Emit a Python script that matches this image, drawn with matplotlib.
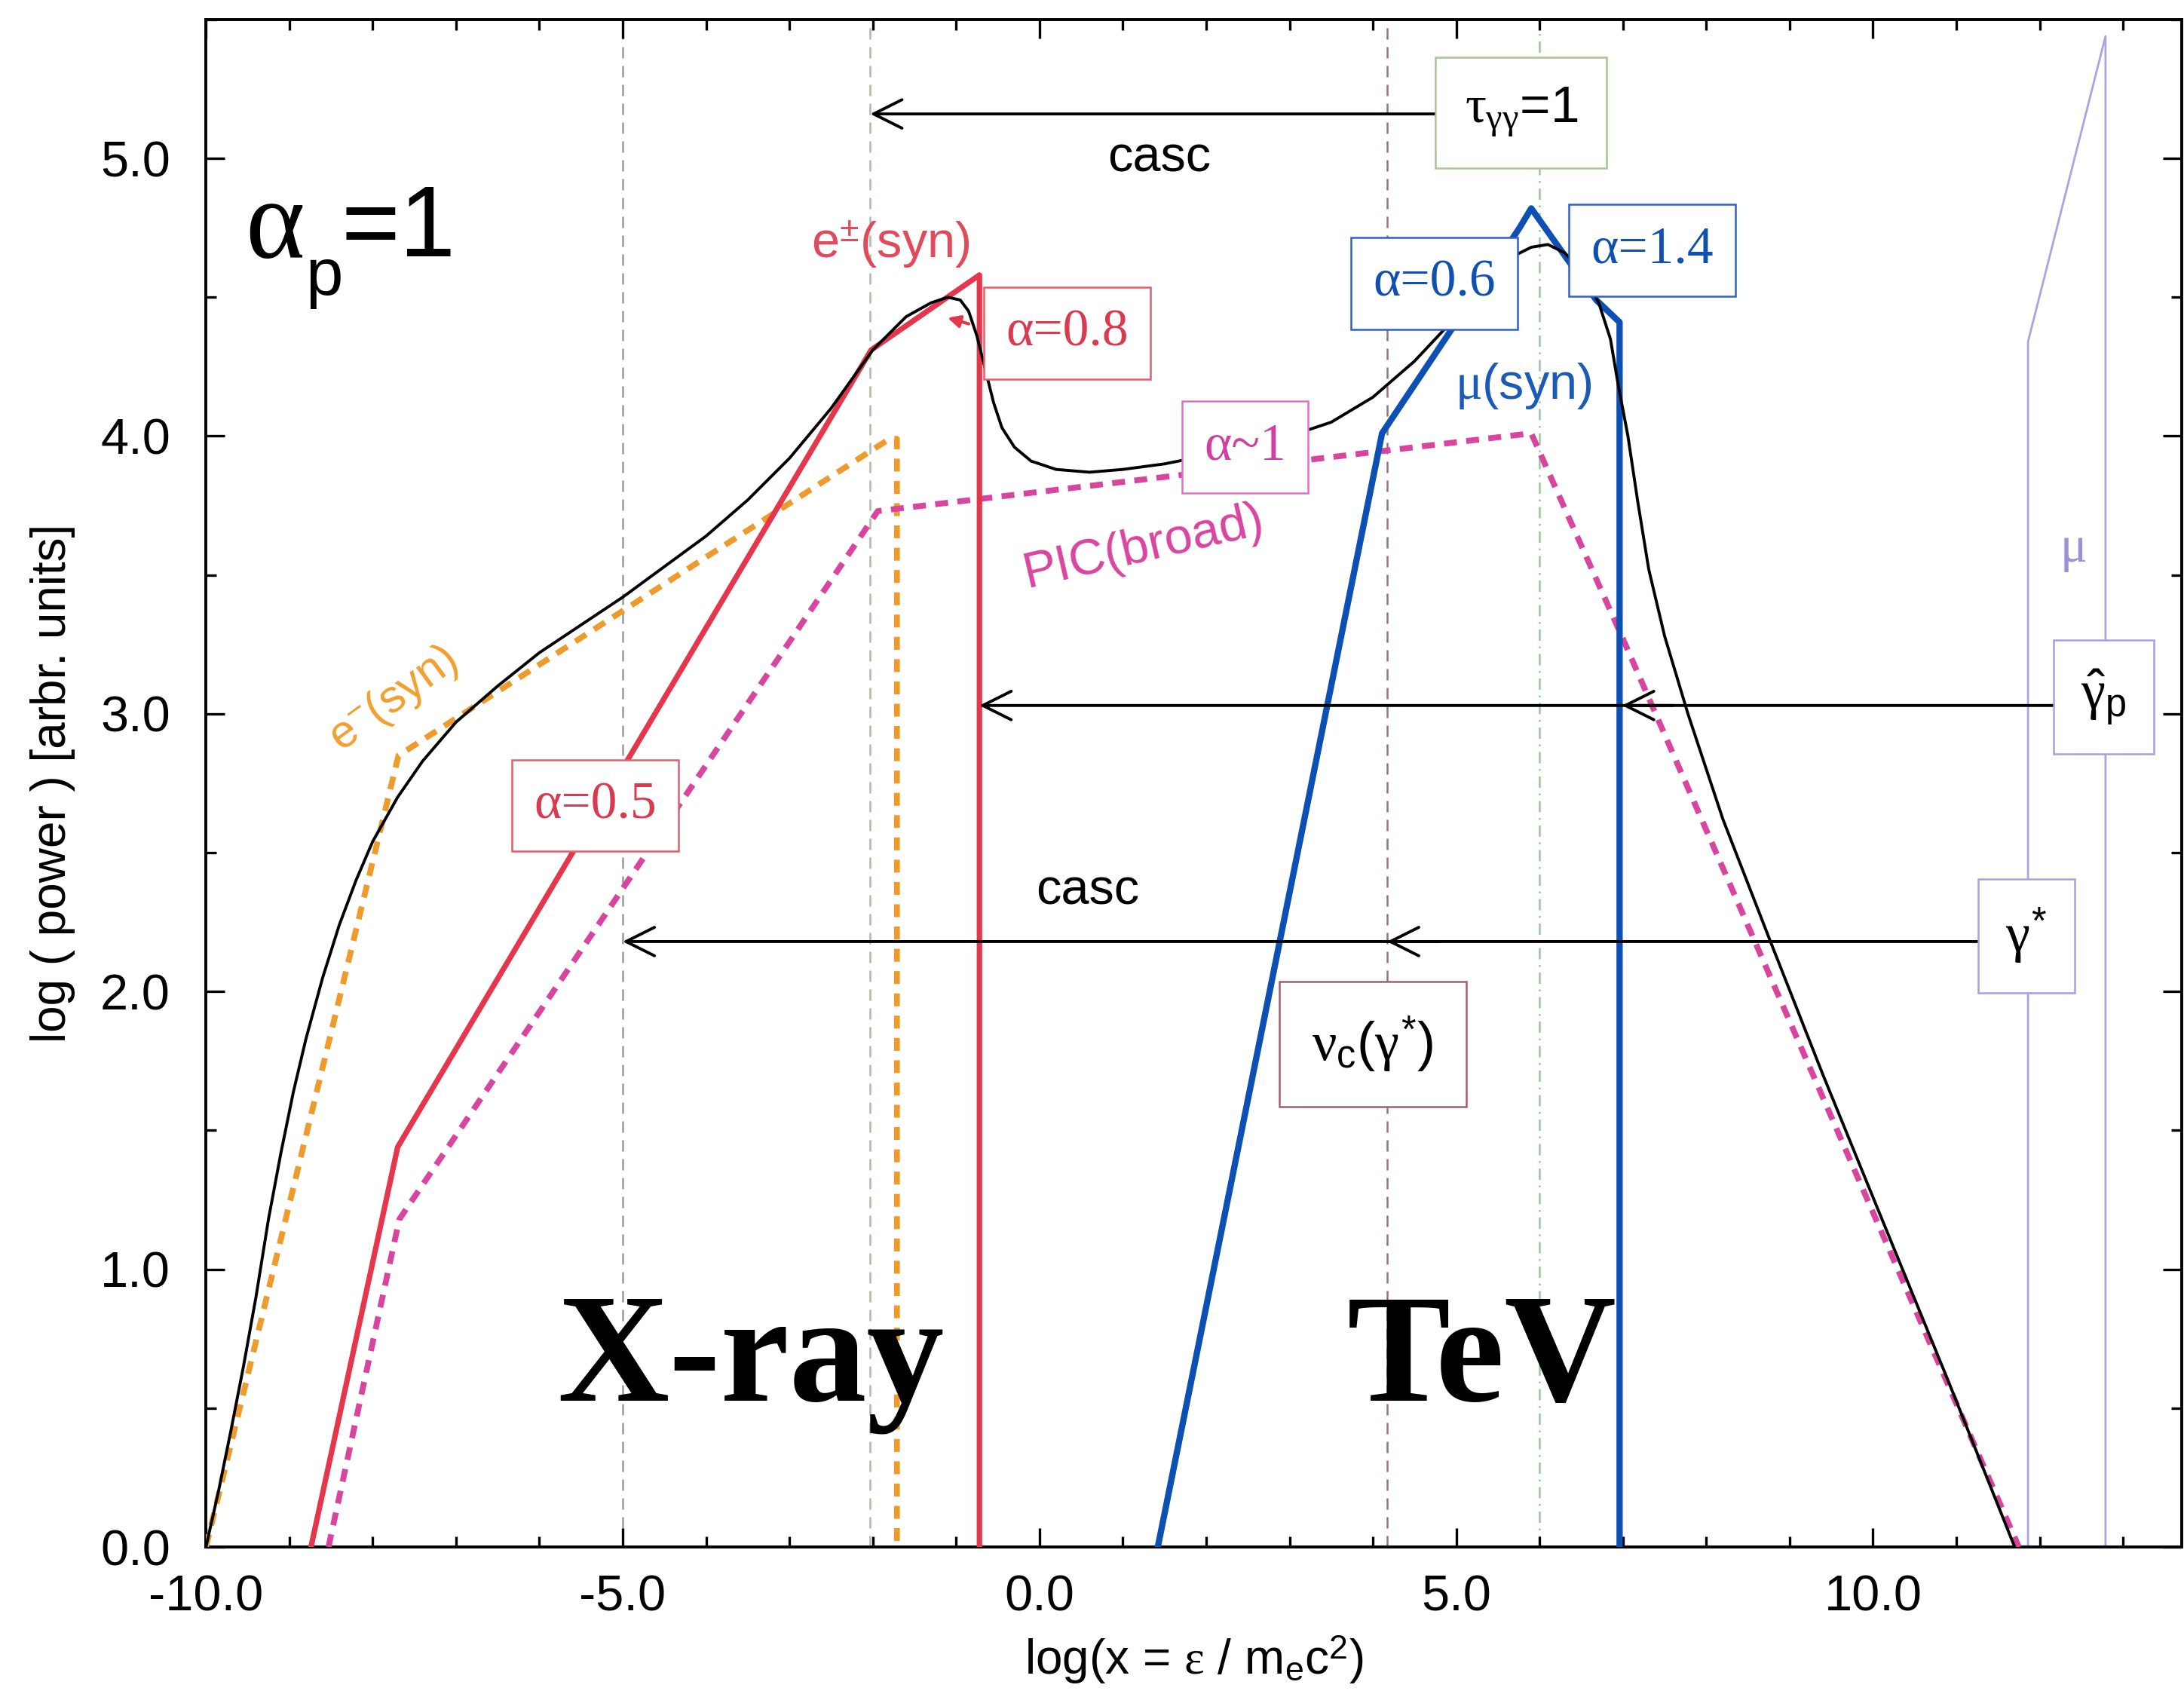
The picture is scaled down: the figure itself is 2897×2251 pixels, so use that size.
"""
Broad-band spectrum sketch: X-ray and TeV components, alpha_p = 1
"""

import matplotlib
matplotlib.use('Agg')
import matplotlib.pyplot as plt
from matplotlib.ticker import MultipleLocator, FormatStrFormatter

plt.rcParams['font.family'] = 'Liberation Sans'
plt.rcParams['mathtext.fontset'] = 'custom'
plt.rcParams['mathtext.rm'] = 'Liberation Sans'
plt.rcParams['mathtext.it'] = 'Liberation Serif'
plt.rcParams['mathtext.bf'] = 'Liberation Sans:bold'

# total spectrum (black)
total_x = [-10.0, -9.85, -9.7, -9.55, -9.4, -9.25, -9.1, -8.95, -8.8, -8.6, -8.4, -8.2,
           -8.0, -7.7, -7.4, -7.0, -6.5, -6.0, -5.5, -5.0, -4.5, -4.0, -3.5, -3.0,
           -2.5, -2.0, -1.6, -1.3, -1.1, -0.95, -0.85, -0.75, -0.65, -0.55, -0.45, -0.3,
           -0.1, 0.2, 0.6, 1.0, 1.5, 2.0, 2.5, 3.0, 3.5, 4.0, 4.5, 5.0,
           5.4, 5.7, 5.9, 6.1, 6.3, 6.5, 6.71, 6.85, 6.94, 7.06, 7.18, 7.31,
           7.5, 7.78, 8.2, 8.77, 9.4, 10.04, 10.9, 11.7]
total_y = [0.0, 0.2, 0.42, 0.65, 0.9, 1.18, 1.42, 1.64, 1.83, 2.05, 2.24, 2.4,
           2.54, 2.7, 2.83, 2.97, 3.1, 3.22, 3.32, 3.42, 3.53, 3.64, 3.77, 3.92,
           4.1, 4.31, 4.43, 4.48, 4.5, 4.49, 4.45, 4.36, 4.24, 4.12, 4.03, 3.96,
           3.91, 3.88, 3.87, 3.88, 3.9, 3.93, 3.96, 4.0, 4.05, 4.14, 4.27, 4.43,
           4.56, 4.65, 4.68, 4.69, 4.66, 4.6, 4.48, 4.35, 4.19, 4.0, 3.76, 3.52,
           3.28, 3.0, 2.62, 2.18, 1.7, 1.23, 0.6, 0.0]

# e+- synchrotron (red)
epm_x = [-8.74, -7.7, -2.02, -0.72, -0.72]
epm_y = [0.0, 1.44, 4.31, 4.58, 0.0]

# e- synchrotron (orange dashed)
em_x = [-10.0, -7.69, -1.8, -1.71, -1.71]
em_y = [0.0, 2.85, 3.99, 3.99, 0.0]

# PIC broad (magenta dashed)
pic_x = [-8.53, -7.68, -1.94, 5.9, 7.0, 11.75]
pic_y = [0.0, 1.18, 3.73, 4.01, 3.27, 0.0]

# muon synchrotron (blue)
musyn_x = [1.42, 4.11, 5.76, 5.9, 6.68, 6.96, 6.96]
musyn_y = [0.0, 4.01, 4.75, 4.82, 4.49, 4.41, 0.0]

# muon (light purple)
mu_x = [11.86, 11.86, 12.79, 12.79]
mu_y = [0.0, 4.34, 5.44, 0.0]

# vertical reference lines: x, colour, dash pattern
vlines_x = [-5.0, -2.03, 4.17, 6.0]
vlines_c = ['#9a9a9a', '#a8bca0', '#9c7080', '#9cc49c']
vlines_d = [(6, 4), (6, 4), (6, 4), (6, 3, 1, 3)]

fig = plt.figure(figsize=(2897 / 200, 2251 / 200), dpi=200)
ax = fig.add_axes([0.0943, 0.0884, 0.9045, 0.9001])

for x, c, d in zip(vlines_x, vlines_c, vlines_d):
    ax.axvline(x, color=c, lw=0.9, dashes=d, zorder=1)

ax.plot(mu_x, mu_y, color='#aaa2e2', lw=1.0, zorder=2)
ax.plot(em_x, em_y, color='#ef9a2c', lw=2.8, dashes=(2.2, 1.6), zorder=3)
ax.plot(pic_x, pic_y, color='#d8459f', lw=2.8, dashes=(2.2, 1.6), zorder=3)
ax.plot(epm_x, epm_y, color='#e5364c', lw=2.6, zorder=3)
ax.plot(musyn_x, musyn_y, color='#0c50b4', lw=3.0, zorder=3)
ax.plot(total_x, total_y, color='black', lw=1.4, zorder=4)

# small red pointer at the e+- peak
ax.annotate('', xy=(-1.15, 4.43), xytext=(-0.8, 4.40),
            arrowprops=dict(arrowstyle='-|>', color='#e5364c', lw=1.5, mutation_scale=12))

# cascade arrows
arr = dict(arrowstyle='->', color='black', lw=1.4, mutation_scale=34, shrinkA=0, shrinkB=0)
ax.annotate('', xy=(-2.03, 5.16), xytext=(5.2, 5.16), arrowprops=arr, zorder=4)
ax.annotate('', xy=(-0.72, 3.03), xytext=(12.5, 3.03), arrowprops=arr, zorder=4)
ax.annotate('', xy=(6.99, 3.03), xytext=(7.6, 3.03), arrowprops=arr, zorder=4)
ax.annotate('', xy=(-5.0, 2.18), xytext=(11.5, 2.18), arrowprops=arr, zorder=4)
ax.annotate('', xy=(4.17, 2.18), xytext=(4.8, 2.18), arrowprops=arr, zorder=4)


def box(x, y, s, tc, ec, family='Liberation Serif', size=25, pad=0.42):
    ax.text(x, y, s, color=tc, fontsize=size, family=family, ha='center', va='center',
            zorder=6, bbox=dict(boxstyle='square,pad=%.2f' % pad, fc='white', ec=ec, lw=0.9))


box(-5.33, 2.67, 'α=0.5', '#d83a50', '#e0606f')
box(0.33, 4.37, 'α=0.8', '#d83a50', '#e0606f')
box(2.47, 3.96, 'α~1', '#d040a0', '#e070c8')
box(4.74, 4.55, 'α=0.6', '#1050b0', '#3060c0')
box(7.35, 4.67, 'α=1.4', '#1050b0', '#3060c0')
box(5.78, 5.165, r'$\tau_{\gamma\gamma}$=1', 'black', '#a8c498', 'Liberation Sans', 25, 0.55)
box(4.0, 1.81, r'$\nu_{\mathrm{c}}(\gamma^{*})$', 'black', '#a06070', 'Liberation Sans', 26, 0.6)
box(12.77, 3.06, r'$\hat{\gamma}_{\mathrm{p}}$', 'black', '#a8a0e0', 'Liberation Sans', 26, 0.5)
box(11.84, 2.20, r'$\gamma^{*}$', 'black', '#a8a0e0', 'Liberation Sans', 26, 0.5)

ax.text(1.44, 5.0, 'casc', fontsize=24, ha='center', va='center')
ax.text(0.58, 2.36, 'casc', fontsize=24, ha='center', va='center')
ax.text(-1.79, 4.69, r'e$^{\pm}$(syn)', color='#e04a5a', fontsize=24, ha='center', va='center')
ax.text(5.81, 4.18, r'$\mu$(syn)', color='#1a5ab8', fontsize=24, ha='center', va='center')
ax.text(1.25, 3.60, 'PIC(broad)', color='#d8459f', fontsize=24, ha='center', va='center',
        rotation=13)
ax.text(-7.75, 3.05, r'e$^{-}$(syn)', color='#f0a030', fontsize=22, ha='center', va='center',
        rotation=36)
ax.text(12.4, 3.59, r'$\mu$', color='#9a90d8', fontsize=24, ha='center', va='center')

# alpha_p = 1 (serif alpha, sans subscript and value)
ax.text(-9.17, 4.74, 'α', fontsize=54, family='Liberation Serif', ha='center', va='center')
ax.text(-8.58, 4.57, 'p', fontsize=32, ha='center', va='center')
ax.text(-8.38, 4.74, '=1', fontsize=48, ha='left', va='center')

ax.text(-3.46, 0.66, 'X-ray', fontsize=74, family='Liberation Serif', weight='bold',
        ha='center', va='center')
ax.text(5.31, 0.66, 'TeV', fontsize=74, family='Liberation Serif', weight='bold',
        ha='center', va='center')

ax.set_xlim(-10, 13.7)
ax.set_ylim(0, 5.5)
ax.xaxis.set_major_locator(MultipleLocator(5))
ax.xaxis.set_minor_locator(MultipleLocator(1))
ax.yaxis.set_major_locator(MultipleLocator(1))
ax.yaxis.set_minor_locator(MultipleLocator(0.5))
ax.xaxis.set_major_formatter(FormatStrFormatter('%.1f'))
ax.yaxis.set_major_formatter(FormatStrFormatter('%.1f'))
ax.tick_params(which='both', direction='in', top=True, right=True, labelsize=24, width=1.2)
ax.tick_params(which='major', length=9)
ax.tick_params(which='minor', length=5)
ax.tick_params(axis='x', which='both', pad=13)
ax.tick_params(axis='y', which='both', pad=17)
for s in ax.spines.values():
    s.set_linewidth(1.4)

ax.set_xlabel(r'log(x = $\epsilon$ / m$_{\mathrm{e}}$c$^{2}$)', fontsize=23, labelpad=6)
ax.set_ylabel('log ( power ) [arbr. units]', fontsize=23, labelpad=12)

plt.savefig('out.png', dpi=200)
